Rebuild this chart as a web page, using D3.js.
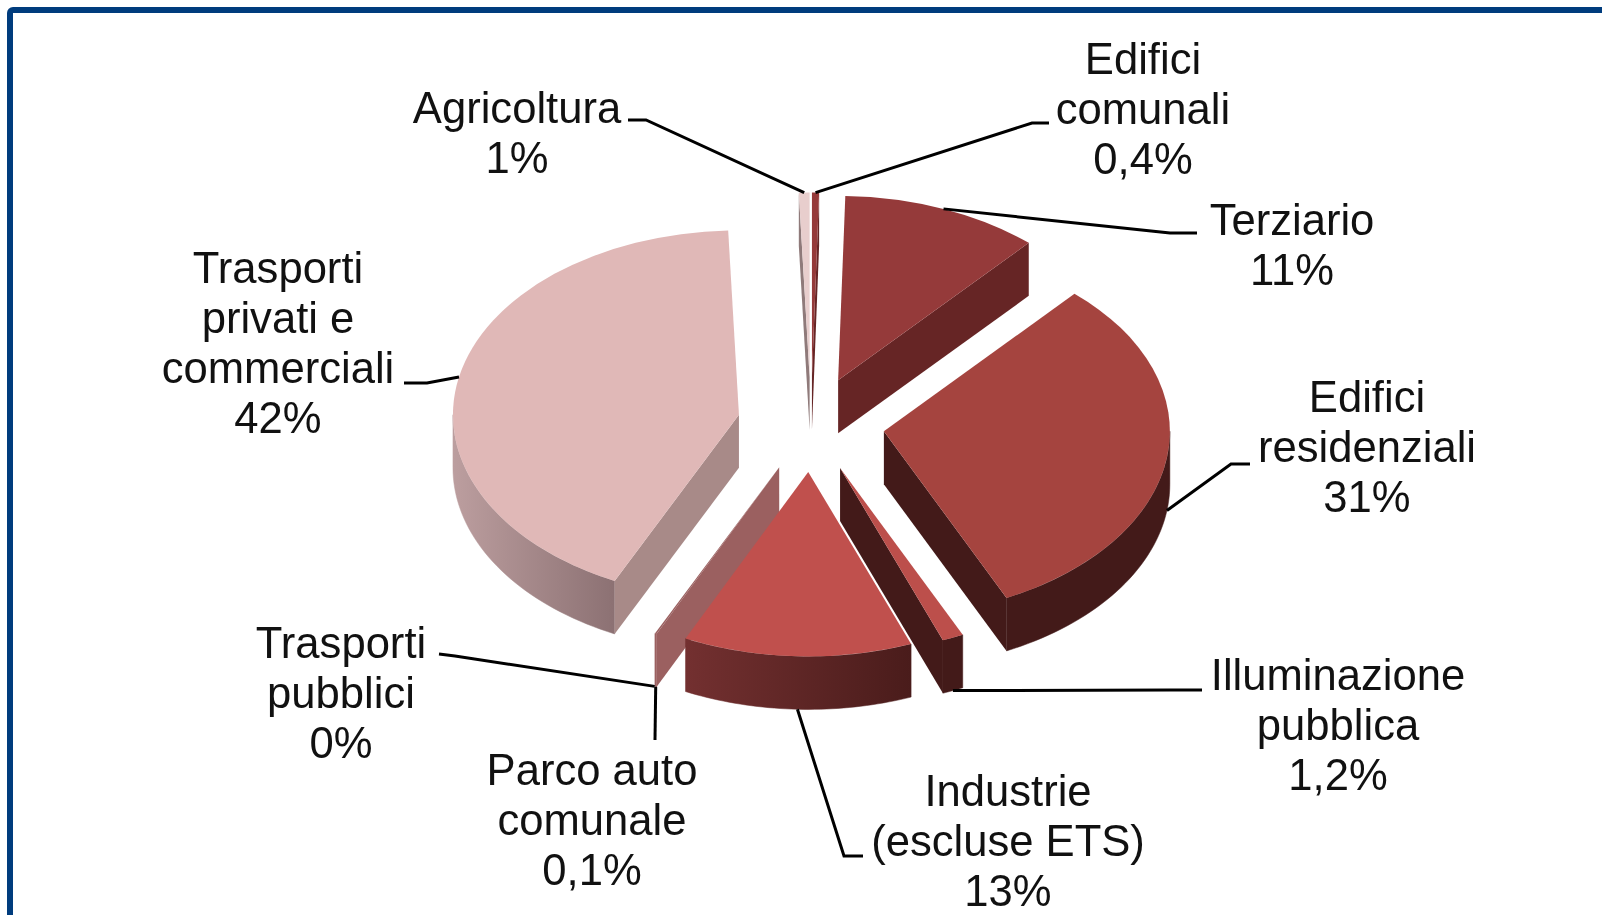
<!DOCTYPE html>
<html>
<head>
<meta charset="utf-8">
<script src="https://cdn.jsdelivr.net/npm/d3@7"></script>
<style>
  html, body { margin: 0; padding: 0; background: #fff; overflow: hidden; }
  svg { display: block; filter: blur(0.6px); }
  text { font-family: "Liberation Sans", Arial, sans-serif; font-size: 43.6px; fill: #111; text-anchor: middle; }
</style>
</head>
<body>
<svg width="1602" height="915"></svg>
<script>
// data
var categories = ["Edifici comunali", "Terziario", "Edifici residenziali", "Illuminazione pubblica",
  "Industrie (escluse ETS)", "Parco auto comunale", "Trasporti pubblici",
  "Trasporti privati e commerciali", "Agricoltura"];
// labels are rounded, wedges read a bit off them (Agricoltura is labelled 1% but reads 0.6)
var values = [0.4, 11.2, 31.3, 1.2, 12.9, 0.1, 0, 42.2, 0.6];
var valueLabels = ["0,4%", "11%", "31%", "1,2%", "13%", "0,1%", "0%", "42%", "1%"];
var labelLines = [
  ["Edifici", "comunali"], ["Terziario"], ["Edifici", "residenziali"], ["Illuminazione", "pubblica"],
  ["Industrie", "(escluse ETS)"], ["Parco auto", "comunale"], ["Trasporti", "pubblici"],
  ["Trasporti", "privati e", "commerciali"], ["Agricoltura"]
];

// styles
var topColors = ["#953a3a", "#953a3a", "#a5443f", "#bc4f4b", "#c0504d", "#9b6060", "#9b6060", "#e0b8b7", "#e8cecd"];
var wallColors = ["#662525", "#662525", "#431a19", "#431a19", "#4f1e1e", "#9b6060", "#9b6060", "#a88a88", "#8f7a7a"];
var rimLeft = ["#662525", "#662525", "#431a19", "#431a19", "#733030", "#9b6060", "#9b6060", "#bc9e9f", "#8f7a7a"];
var rimRight = ["#662525", "#662525", "#431a19", "#431a19", "#4a1c1b", "#9b6060", "#9b6060", "#8c7173", "#8f7a7a"];

// label layout: centre x, first baseline
var labelX = [1143, 1292, 1367, 1338, 1008, 592, 341, 278, 517];
var labelY = [74, 235, 412, 690, 806, 785, 658, 283, 123];
var leaderEnd = [
  [[1049, 123], [1032, 123]],
  [[1197, 233], [1170, 233]],
  [[1250, 464], [1231, 464]],
  [[1202, 690], [1170, 690]],
  [[863, 856], [844, 856]],
  [[655, 740]],
  [[439, 654], [455, 656]],
  [[404, 383], [427, 383]],
  [[628, 120], [646, 120]]
];
// leader leaves from the wall bottom for the front slices
var leaderOnWall = [false, false, true, true, true, true, true, false, false];

var cx = 811, cy = 424.5, R = 286, tilt = 0.645, explode = 73.6, depth = 53;

var svg = d3.select("svg");

svg.append("rect")
  .attr("x", 10).attr("y", 10)
  .attr("width", 1700).attr("height", 1000)
  .attr("rx", 3)
  .attr("fill", "#fff")
  .attr("stroke", "#003c7d")
  .attr("stroke-width", 6);

var pie = d3.pie().sort(null)(values);
pie.forEach(function(d, i) { d.i = i; d.mid = (d.startAngle + d.endAngle) / 2; });

function centre(d) {
  return [cx + explode * Math.sin(d.mid), cy - explode * Math.cos(d.mid) * tilt];
}
function rim(d, a, h) {
  var c = centre(d);
  return [c[0] + R * Math.sin(a), c[1] - R * tilt * Math.cos(a) + (h || 0)];
}

var defs = svg.append("defs");
var line = d3.line();
var arc = d3.arc().innerRadius(0).outerRadius(R);

pie.forEach(function(d) {
  var grad = defs.append("linearGradient")
    .attr("id", "rim" + d.i)
    .attr("gradientUnits", "userSpaceOnUse")
    .attr("x1", rim(d, Math.max(d.startAngle, Math.min(d.endAngle, Math.PI * 1.5)))[0])
    .attr("x2", rim(d, Math.max(d.startAngle, Math.PI / 2))[0])
    .attr("y1", 0).attr("y2", 0);
  grad.append("stop").attr("offset", 0).attr("stop-color", rimLeft[d.i]);
  grad.append("stop").attr("offset", 1).attr("stop-color", rimRight[d.i]);
});

// back slices first so the front ones cover them
var order = pie.filter(function(d) { return d.value > 0; })
  .sort(function(a, b) { return d3.descending(Math.cos(a.mid), Math.cos(b.mid)); });

var slices = svg.selectAll("g.slice")
  .data(order)
  .enter().append("g")
  .attr("class", "slice");

slices.each(function(d) {
  var g = d3.select(this), c = centre(d);

  // outer wall, only the part facing the viewer
  var a0 = Math.max(d.startAngle, Math.PI / 2), a1 = Math.min(d.endAngle, Math.PI * 1.5);
  if (a1 > a0) {
    var steps = d3.range(0, 41).map(function(k) { return a0 + (a1 - a0) * k / 40; });
    var upper = steps.map(function(a) { return rim(d, a); });
    var lower = steps.slice().reverse().map(function(a) { return rim(d, a, depth); });
    g.append("path")
      .attr("d", line(upper.concat(lower)) + "Z")
      .attr("fill", "url(#rim" + d.i + ")")
      .attr("stroke", "url(#rim" + d.i + ")")
      .attr("stroke-width", 0.5);
  }

  var cuts = [];
  if (Math.sin(d.startAngle) < 0) cuts.push(d.startAngle);
  if (Math.sin(d.endAngle) > 0) cuts.push(d.endAngle);
  cuts.forEach(function(a) {
    var p = rim(d, a), q = rim(d, a, depth);
    g.append("path")
      .attr("d", line([c, p, q, [c[0], c[1] + depth]]) + "Z")
      .attr("fill", wallColors[d.i]);
  });

  g.append("path")
    .attr("transform", "translate(" + c[0] + "," + c[1] + ") scale(1," + tilt + ")")
    .attr("d", arc(d))
    .attr("fill", topColors[d.i]);
});

// leader lines
svg.append("g").selectAll("path")
  .data(pie)
  .enter().append("path")
  .attr("d", function(d) {
    var start = rim(d, d.mid, leaderOnWall[d.i] ? depth : 0);
    return line(leaderEnd[d.i].concat([start]));
  })
  .attr("fill", "none")
  .attr("stroke", "#000")
  .attr("stroke-width", 3);

// labels
var labels = svg.append("g").selectAll("text")
  .data(categories)
  .enter().append("text")
  .attr("x", function(d, i) { return labelX[i]; })
  .attr("y", function(d, i) { return labelY[i]; });

labels.each(function(d, i) {
  var t = d3.select(this);
  labelLines[i].concat([valueLabels[i]]).forEach(function(s, k) {
    t.append("tspan")
      .attr("x", labelX[i])
      .attr("dy", k ? 50 : 0)
      .text(s);
  });
});
</script>
</body>
</html>
